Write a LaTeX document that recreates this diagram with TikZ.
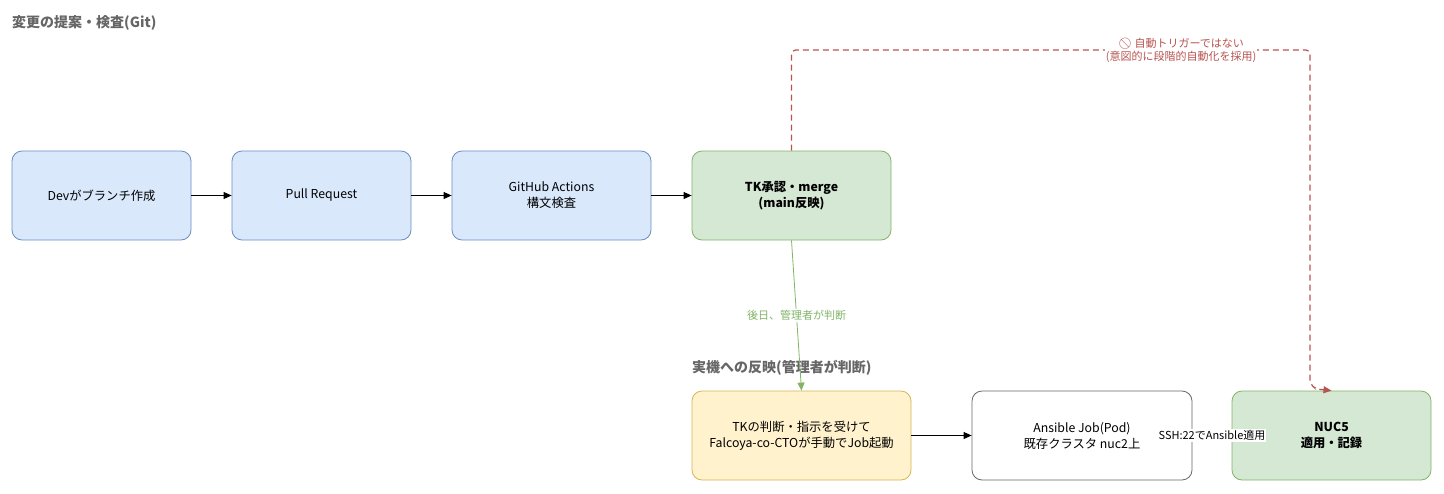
\documentclass[tikz,border=0pt]{standalone}
\usepackage{fontspec}
\setmainfont{Noto Sans CJK JP}
\newfontfamily\emojifont{Noto Emoji}
\usetikzlibrary{arrows.meta}
\definecolor{bluefill}{HTML}{DAE8FC}
\definecolor{blueline}{HTML}{6C8EBF}
\definecolor{greenfill}{HTML}{D5E8D4}
\definecolor{greenline}{HTML}{82B366}
\definecolor{yellowfill}{HTML}{FFF2CC}
\definecolor{yellowline}{HTML}{D6B656}
\definecolor{redline}{HTML}{B85450}
\definecolor{titlegray}{HTML}{666666}

\begin{document}
\begin{tikzpicture}[x=1pt,y=-1pt,
  box/.style={draw,rounded corners=10pt,align=center,minimum width=179pt,minimum height=89pt,line width=0.8pt,font=\fontsize{12.3}{16}\selectfont},
  bluebox/.style={box,fill=bluefill,draw=blueline},
  greenbox/.style={box,fill=greenfill,draw=greenline,font=\fontsize{12.3}{16}\selectfont\bfseries},
  yellowbox/.style={box,fill=yellowfill,draw=yellowline},
  plainbox/.style={box,fill=white,draw=black!60},
  title/.style={anchor=west,inner sep=0pt,text=titlegray,font=\fontsize{14}{17}\selectfont\bfseries},
  arr/.style={-{Triangle[length=8pt,width=7pt]},line width=0.8pt},
  lbl/.style={fill=white,inner sep=1pt,align=center,font=\fontsize{11}{13}\selectfont}]
  \useasboundingbox (0,0) rectangle (1444,493);
  \path (12,23) node[title] (git) {変更の提案・検査(Git)}
  (692,368) node[title] (real) {実機への反映(管理者が判断)};
  \path (101.5,195.5) node[bluebox] (dev) {Devがブランチ作成}
  (321.5,195.5) node[bluebox] (pr) {Pull Request}
  (551.5,195.5) node[bluebox,minimum width=199pt] (gha) {GitHub Actions\\構文検査}
  (791.5,195.5) node[greenbox,minimum width=199pt] (tk) {TK承認・merge\\(main反映)}
  (801.5,435.5) node[yellowbox,minimum width=219pt] (job) {TKの判断・指示を受けて\\Falcoya-co-CTOが手動でJob起動}
  (1082,435.5) node[plainbox,minimum width=220pt] (ansible) {Ansible Job(Pod)\\既存クラスタ nuc2上}
  (1331.5,435.5) node[greenbox,minimum width=199pt] (nuc) {NUC5\\適用・記録};
  \draw[arr] (dev) -- (pr);
  \draw[arr] (pr) -- (gha);
  \draw[arr] (gha) -- (tk);
  \draw[arr] (job) -- (ansible);
  \draw[arr] (ansible) -- node[lbl] {SSH:22でAnsible適用} (nuc);
  \draw[arr,draw=greenline] (tk.south) -- node[lbl,text=greenline] {後日、管理者が判断} (job.north);
  \draw[arr,draw=redline,line width=1.2pt,dash pattern=on 6pt off 4pt,rounded corners=4pt]
  (tk.north) -- (791.5,50) -- (1310,50) -- (1310,384) -- (1316,389) -- (nuc.north);
  \node[lbl,text=redline] (note) at (1181,50) {{\emojifont 🚫} 自動トリガーではない\\(意図的に段階的自動化を採用)};
\end{tikzpicture}
\end{document}
